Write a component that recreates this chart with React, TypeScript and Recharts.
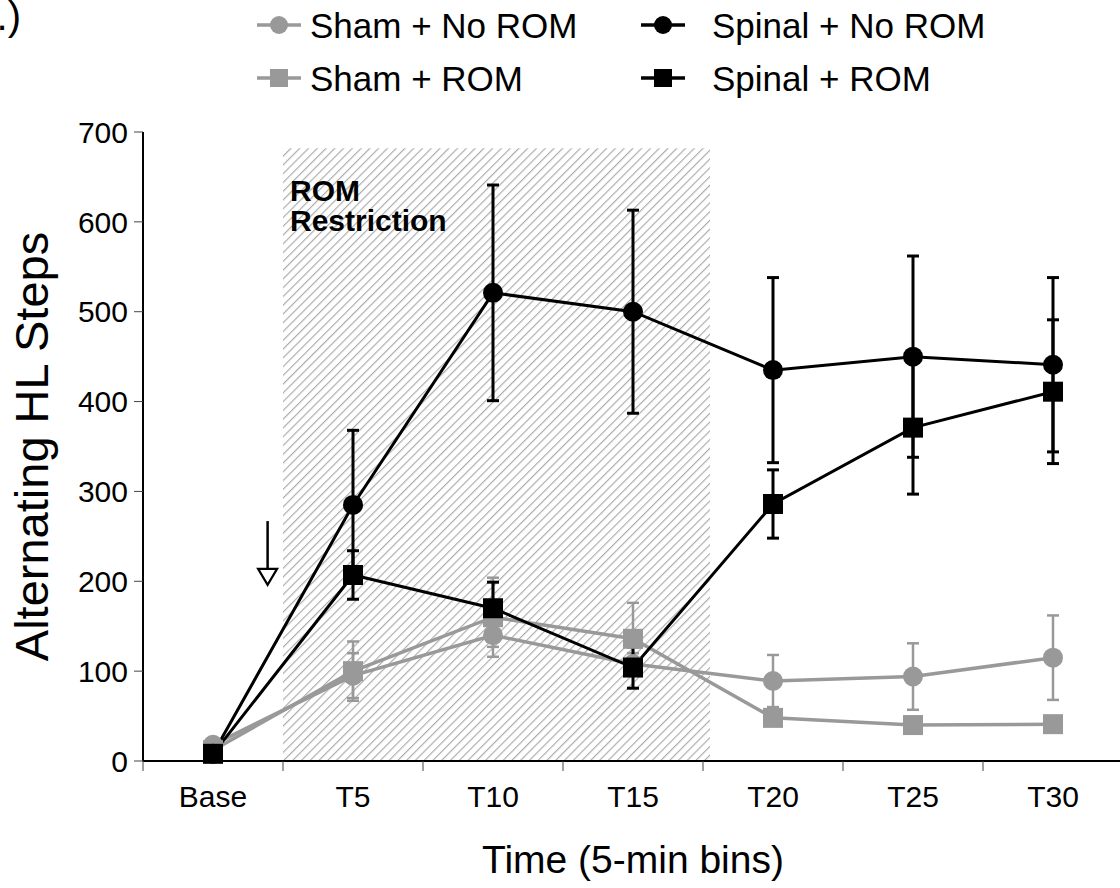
import React from 'react';
import {
  LineChart,
  Line,
  XAxis,
  YAxis,
  ErrorBar,
  ReferenceArea,
  ReferenceLine,
  Label
} from 'recharts';

const categories = ['Base', 'T5', 'T10', 'T15', 'T20', 'T25', 'T30'];

const shamNoRom = [18, 95, 140, 108, 89, 94, 115];
const shamNoRomErr = [3, 25, 13, 12, 29, 37, 47];
const shamRom = [12, 100, 160, 136, 48, 40, 41];
const shamRomErr = [3, 33, 44, 40, 6, 5, 5];
const spinalNoRom = [8, 285, 521, 500, 435, 450, 441];
const spinalNoRomErr = [3, 83, 120, 113, 103, 112, 97];
const spinalRom = [8, 207, 170, 104, 286, 371, 411];
const spinalRomErr = [3, 27, 29, 23, 38, 74, 80];

const yTicks = [0, 100, 200, 300, 400, 500, 600, 700];

// ROM restriction window and the injury arrow, in category units on x
const restrictStart = 0.5;
const restrictEnd = 3.55;
const restrictTop = 682;
const arrowX = 0.39;
const arrowTop = 267;
const arrowTip = 196;

const FONT = '"Liberation Sans", Arial, Helvetica, sans-serif';
const GRAY = '#999999';
const BLACK = '#000000';

type Shape = 'circle' | 'square';

interface SeriesDef {
  key: string;
  name: string;
  color: string;
  shape: Shape;
  values: number[];
  errors: number[];
}

// drawing order: gray groups underneath, spinal groups on top
const series: SeriesDef[] = [
  { key: 'shamNoRom', name: 'Sham + No ROM', color: GRAY, shape: 'circle', values: shamNoRom, errors: shamNoRomErr },
  { key: 'shamRom', name: 'Sham + ROM', color: GRAY, shape: 'square', values: shamRom, errors: shamRomErr },
  { key: 'spinalNoRom', name: 'Spinal + No ROM', color: BLACK, shape: 'circle', values: spinalNoRom, errors: spinalNoRomErr },
  { key: 'spinalRom', name: 'Spinal + ROM', color: BLACK, shape: 'square', values: spinalRom, errors: spinalRomErr }
];

const data = categories.map((label, i) => {
  const row: Record<string, number | string> = { x: i, label };
  series.forEach((s) => {
    row[s.key] = s.values[i];
    row[s.key + 'Err'] = s.errors[i];
  });
  return row;
});

// tick marks sit on the band edges, the labels on the band centres
const xTicks = categories
  .flatMap((_, i) => [i - 0.5, i])
  .concat(categories.length - 0.5);

const XTick = (props: any) => {
  const { x, y, payload } = props;
  const v = payload?.value as number;
  if (v == null) return <g />;
  if (!Number.isInteger(v)) {
    return <line x1={x} y1={y} x2={x} y2={y + 10} stroke="#444" strokeWidth={1} />;
  }
  return (
    <text x={x} y={y + 46} textAnchor="middle" fontFamily={FONT} fontSize={30} fill="#000">
      {categories[v]}
    </text>
  );
};

const makeDot = (shape: Shape, color: string) => (props: any) => {
  const { cx, cy, index } = props;
  if (cx == null || cy == null) return <g key={`d-${index}`} />;
  if (shape === 'circle') {
    return <circle key={`d-${index}`} cx={cx} cy={cy} r={10} fill={color} />;
  }
  return <rect key={`d-${index}`} x={cx - 10} y={cy - 10} width={20} height={20} fill={color} />;
};

const RomLabel = (props: any) => {
  const { viewBox } = props;
  if (!viewBox) return null;
  const x = viewBox.x + 7;
  const y = viewBox.y;
  return (
    <text x={x} y={y} fontFamily={FONT} fontWeight="bold" fontSize={30} fill="#000">
      <tspan x={x} dy={53}>ROM</tspan>
      <tspan x={x} dy={30}>Restriction</tspan>
    </text>
  );
};

const ArrowShape = (props: any) => {
  const { x1, y1, x2, y2 } = props;
  if (x1 == null) return <g />;
  const headH = 16;
  const headW = 9.5;
  const top = Math.min(y1, y2);
  const tip = Math.max(y1, y2);
  return (
    <g>
      <line x1={x1} y1={top} x2={x2} y2={tip - headH} stroke="#000" strokeWidth={2.5} />
      <polygon
        points={`${x1 - headW},${tip - headH} ${x1 + headW},${tip - headH} ${x1},${tip}`}
        fill="#fff"
        stroke="#000"
        strokeWidth={2.2}
      />
    </g>
  );
};

const LegendMarker = ({ s, cx, cy }: { s: SeriesDef; cx: number; cy: number }) => (
  <g>
    <line x1={cx - 22} y1={cy} x2={cx + 22} y2={cy} stroke={s.color} strokeWidth={3.5} />
    {s.shape === 'circle' ? (
      <circle cx={cx} cy={cy} r={9} fill={s.color} />
    ) : (
      <rect x={cx - 9} y={cy - 9} width={18} height={18} fill={s.color} />
    )}
  </g>
);

// legend grid: columns by injury group, rows by ROM condition
const legendCells = [
  { s: series[0], mx: 279, tx: 310, y: 25 },
  { s: series[1], mx: 279, tx: 310, y: 78 },
  { s: series[2], mx: 663, tx: 712, y: 25 },
  { s: series[3], mx: 663, tx: 712, y: 78 }
];

export default function App() {
  return (
    <div
      style={{
        position: 'fixed',
        left: 0,
        top: 0,
        width: 1120,
        height: 888,
        overflow: 'hidden',
        background: '#fff',
        fontFamily: FONT
      }}
    >
      <LineChart width={1140} height={888} data={data} margin={{ top: 132, right: 17, bottom: 0, left: 0 }}>
        <defs>
          <pattern id="hatch" width={6.2} height={6.2} patternUnits="userSpaceOnUse" patternTransform="rotate(45)">
            <line x1={0.6} y1={0} x2={0.6} y2={6.2} stroke="#a6a6a6" strokeWidth={1.1} />
          </pattern>
        </defs>
        <XAxis
          type="number"
          dataKey="x"
          domain={[-0.5, 6.5]}
          ticks={xTicks}
          interval={0}
          height={127}
          tickSize={0}
          tickMargin={0}
          tickLine={false}
          axisLine={{ stroke: '#000', strokeWidth: 2 }}
          tick={<XTick />}
        >
          <Label
            value="Time (5-min bins)"
            position="insideBottom"
            offset={15}
            style={{ fontSize: 39, fill: '#000', fontFamily: FONT }}
          />
        </XAxis>
        <YAxis
          type="number"
          domain={[0, 700]}
          ticks={yTicks}
          interval={0}
          width={143}
          tickSize={9}
          tickMargin={6}
          axisLine={{ stroke: '#000', strokeWidth: 2 }}
          tickLine={{ stroke: '#444', strokeWidth: 1 }}
          tick={{ fontSize: 30, fill: '#000', fontFamily: FONT }}
        >
          <Label
            value="Alternating HL Steps"
            angle={-90}
            position="insideLeft"
            offset={31}
            style={{ fontSize: 47, fill: '#000', fontFamily: FONT, textAnchor: 'middle' }}
          />
        </YAxis>

        <ReferenceArea
          x1={restrictStart}
          x2={restrictEnd}
          y1={0}
          y2={restrictTop}
          fill="url(#hatch)"
          fillOpacity={1}
          stroke="none"
        >
          <Label content={RomLabel} />
        </ReferenceArea>

        <ReferenceLine
          segment={[
            { x: arrowX, y: arrowTop },
            { x: arrowX, y: arrowTip }
          ]}
          stroke="#000"
          shape={ArrowShape}
        />

        {series.map((s) => (
          <Line
            key={s.key}
            type="linear"
            dataKey={s.key}
            name={s.name}
            stroke={s.color}
            strokeWidth={s.color === BLACK ? 3 : 3.5}
            dot={makeDot(s.shape, s.color)}
            activeDot={false}
            isAnimationActive={false}
          >
            <ErrorBar
              dataKey={s.key + 'Err'}
              direction="y"
              width={6}
              stroke={s.color}
              strokeWidth={s.color === BLACK ? 3 : 2.5}
            />
          </Line>
        ))}
      </LineChart>

      <svg
        width={1120}
        height={110}
        style={{ position: 'absolute', left: 0, top: 0, pointerEvents: 'none' }}
      >
        <text x={21} y={30} textAnchor="end" fontFamily={FONT} fontSize={40} fill="#000">
          A.)
        </text>
        {legendCells.map((c) => (
          <g key={c.s.key}>
            <LegendMarker s={c.s} cx={c.mx} cy={c.y} />
            <text x={c.tx} y={c.y} dy="0.36em" fontFamily={FONT} fontSize={35} fill="#000">
              {c.s.name}
            </text>
          </g>
        ))}
      </svg>
    </div>
  );
}
